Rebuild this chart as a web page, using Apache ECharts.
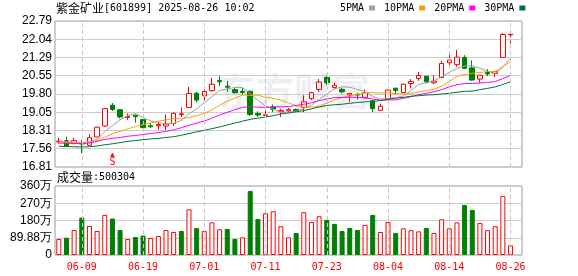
<!DOCTYPE html>
<html><head><meta charset="utf-8">
<script src="https://cdn.jsdelivr.net/npm/echarts@6/dist/echarts.min.js"></script>
<style>html,body{margin:0;padding:0;background:#fff}#c{width:578px;height:276px}</style>
</head><body><div id="c"></div>
<script>
const dates = ['06-04','06-05','06-06','06-09','06-10','06-11','06-12','06-13','06-16','06-17','06-18','06-19','06-20','06-23','06-24','06-25','06-26','06-27','06-30','07-01','07-02','07-03','07-04','07-07','07-08','07-09','07-10','07-11','07-14','07-15','07-16','07-17','07-18','07-21','07-22','07-23','07-24','07-25','07-28','07-29','07-30','07-31','08-01','08-04','08-05','08-06','08-07','08-08','08-11','08-12','08-13','08-14','08-15','08-18','08-19','08-20','08-21','08-22','08-25','08-26'];
const opens  = [17.84,17.89,17.81,17.79,17.70,18.04,18.49,19.34,19.16,18.83,18.93,18.75,18.50,18.50,18.49,18.59,18.96,19.25,19.83,19.72,19.94,20.35,20.12,19.98,19.91,19.91,19.00,18.92,19.27,19.07,19.11,19.17,19.25,19.62,19.99,20.48,20.07,19.99,19.76,19.79,19.66,19.52,19.13,19.62,20.04,19.86,20.23,20.44,20.53,20.26,20.48,21.08,21.00,21.30,20.87,20.41,20.68,20.64,21.30,22.22];
const closes = [17.87,17.67,17.89,17.75,18.01,18.44,19.20,19.17,18.86,18.88,18.87,18.42,18.46,18.55,18.57,19.01,18.99,19.82,19.55,19.90,20.20,20.30,20.08,19.85,19.86,18.96,18.94,18.95,19.18,19.13,19.16,19.10,19.48,19.85,20.29,20.26,20.16,19.89,19.82,19.76,19.85,19.20,19.30,19.96,19.94,20.20,20.31,20.56,20.30,20.33,21.05,21.19,21.31,20.85,20.37,20.57,20.62,20.71,22.24,22.25];
const lows   = [17.77,17.65,17.73,17.38,17.68,18.03,18.46,19.10,18.80,18.74,18.63,18.41,18.41,18.34,18.33,18.49,18.86,19.24,19.45,19.45,19.89,20.13,19.89,19.82,19.75,18.90,18.86,18.90,19.06,18.86,19.04,19.06,19.06,19.55,19.89,20.16,19.99,19.82,19.48,19.57,19.62,19.06,19.12,19.59,19.79,19.84,20.03,20.34,20.23,20.20,20.44,20.98,20.91,20.82,20.34,20.26,20.53,20.50,21.28,21.87];
const highs  = [18.00,18.05,18.01,17.92,18.15,18.46,19.24,19.43,19.17,19.00,18.96,18.77,18.63,18.64,18.96,19.04,19.25,20.09,19.89,20.05,20.46,20.53,20.33,20.05,20.05,19.93,19.09,19.27,19.37,19.20,19.23,19.20,19.75,19.89,20.41,20.53,20.27,20.05,19.83,19.83,19.99,19.55,19.41,19.98,20.05,20.23,20.41,20.71,20.54,20.56,21.16,21.56,21.61,21.39,21.18,20.58,20.82,20.73,22.30,22.29];
const ma5  = [17.85,17.82,17.81,17.80,17.84,17.95,18.26,18.51,18.74,18.91,19.00,18.84,18.70,18.64,18.57,18.60,18.72,18.99,19.19,19.45,19.69,19.95,20.01,20.07,20.06,19.81,19.54,19.31,19.18,19.03,19.07,19.10,19.21,19.34,19.58,19.80,20.01,20.09,20.08,19.98,19.90,19.70,19.59,19.61,19.65,19.72,19.94,20.19,20.26,20.34,20.51,20.69,20.84,20.95,20.95,20.86,20.74,20.62,20.90,21.28];
const ma10 = [17.86,17.84,17.82,17.79,17.82,17.90,18.03,18.17,18.27,18.37,18.47,18.55,18.61,18.69,18.74,18.80,18.78,18.84,18.91,19.01,19.15,19.34,19.50,19.63,19.76,19.75,19.75,19.66,19.62,19.55,19.44,19.32,19.26,19.26,19.30,19.43,19.56,19.65,19.71,19.78,19.85,19.86,19.84,19.85,19.81,19.81,19.82,19.89,19.94,20.00,20.12,20.31,20.52,20.60,20.65,20.68,20.72,20.73,20.92,21.12];
const ma20 = [17.79,17.78,17.77,17.77,17.79,17.86,17.94,17.98,18.02,18.07,18.10,18.14,18.18,18.22,18.27,18.33,18.42,18.52,18.61,18.69,18.81,18.94,19.05,19.16,19.25,19.28,19.26,19.25,19.27,19.28,19.29,19.33,19.38,19.44,19.53,19.59,19.65,19.66,19.67,19.66,19.64,19.59,19.55,19.56,19.56,19.62,19.69,19.77,19.83,19.89,19.98,20.09,20.18,20.23,20.23,20.25,20.27,20.31,20.43,20.56];
const ma30 = [17.66,17.65,17.64,17.63,17.64,17.67,17.72,17.76,17.81,17.86,17.89,17.93,17.96,17.98,18.02,18.05,18.11,18.18,18.25,18.31,18.38,18.45,18.53,18.61,18.69,18.76,18.81,18.86,18.91,18.98,19.02,19.07,19.12,19.19,19.27,19.33,19.36,19.38,19.42,19.45,19.48,19.50,19.53,19.58,19.63,19.66,19.71,19.73,19.76,19.77,19.80,19.83,19.87,19.91,19.92,19.98,20.03,20.09,20.19,20.30];
// volume in 万 (10k)
const volumes = [83.5,90,130,195,151,125,209,190,130,83.5,94,101,89,99,130,120,125,238,140,125,170,134,136,83.5,92,334,188,217,228,150,92,115,223,172,202,183,162,125,141,130,157,209,120,172,115,139,129,123,141,115,186,139,170,261,235,167,129,150,308,50];
// 1 = red (up), -1 = green (down), as coloured in the volume pane
const volDir = [1,-1,1,-1,1,1,1,-1,-1,1,-1,-1,1,1,1,1,-1,1,-1,1,1,1,-1,-1,1,-1,-1,1,1,1,1,-1,1,1,1,-1,-1,-1,-1,-1,1,-1,1,1,-1,1,1,1,-1,1,1,1,1,-1,-1,1,1,1,1,1];
const xLabelDates = ['06-09','06-19','07-01','07-11','07-23','08-04','08-14','08-26'];
const priceTicks = [16.81,17.5575,18.305,19.0525,19.8,20.5475,21.295,22.0425,22.79];
const priceTickLabels = ['16.81','17.56','18.31','19.05','19.80','20.55','21.29','22.04','22.79'];
const volTicks = [0,89.88,179.76,269.64,359.52];
const volTickLabels = ['0','89.88万','180万','270万','360万'];
const signalDate = '06-13';
const signalPrice = 17.31;

const RED = '#ff0000', GREEN = '#008000';
const cats = dates.concat(['']);
const kData = opens.map((o, i) => [o, closes[i], lows[i], highs[i]]);
const volData = volumes.map((v, i) => ({
  value: v,
  itemStyle: volDir[i] > 0 ? {color: '#ffffff', borderColor: RED, borderWidth: 1}
                           : {color: GREEN, borderColor: GREEN, borderWidth: 1}
}));
const vLines = xLabelDates.map(d => ({xAxis: d}));
const markLineStyle = {
  symbol: ['none', 'none'], silent: true, animation: false,
  label: {show: false},
  lineStyle: {type: [4, 3], color: '#c8c8c8', width: 1},
  data: vLines
};
const lookup = (ticks, labels) => v => {
  const k = ticks.findIndex(t => Math.abs(t - v) < 1e-6);
  return k >= 0 ? labels[k] : '';
};
const axisFont = {color: '#000', fontFamily: 'Liberation Sans', fontSize: 12, margin: 3};
const richTitle = {
  a: {fontFamily: 'Noto Sans CJK SC', fontSize: 12, color: '#000', fontWeight: 'normal'},
  b: {fontFamily: 'DejaVu Sans Mono', fontSize: 10, color: '#000', fontWeight: 'normal'}
};

const chart = echarts.init(document.getElementById('c'));
chart.setOption({
  animation: false,
  title: [
    {left: 56, top: 2, padding: 0,
     text: '{a|紫金矿业}{b|[601899] 2025-08-26 10:02}',
     textStyle: {fontWeight: 'normal', rich: richTitle}},
    {left: 57, top: 171, padding: 0,
     text: '{a|成交量}{b|:500304}',
     textStyle: {fontWeight: 'normal', rich: richTitle}}
  ],
  legend: {
    left: 340, top: 3, padding: 0, align: 'right', icon: 'rect',
    itemWidth: 6, itemHeight: 5, itemGap: 9,
    textStyle: {fontFamily: 'DejaVu Sans Mono', fontSize: 10, color: '#000'},
    data: ['5PMA', '10PMA', '20PMA', '30PMA'],
    selectedMode: false
  },
  graphic: [{
    type: 'text', left: 218, top: 72, z: -1, silent: true,
    style: {text: '东方财富', font: 'bold 38px "Noto Sans CJK SC"', fill: 'rgba(185,190,205,0.25)'}
  }],
  grid: [
    {left: 55, top: 21, width: 467, height: 146, show: true, borderColor: '#999', borderWidth: 1},
    {left: 55, top: 186, width: 467, height: 69, show: true, borderColor: '#999', borderWidth: 1}
  ],
  xAxis: [
    {type: 'category', gridIndex: 0, data: cats, boundaryGap: true,
     axisLine: {show: false}, axisTick: {show: false}, axisLabel: {show: false}, splitLine: {show: false}},
    {type: 'category', gridIndex: 1, data: cats, boundaryGap: true,
     axisLine: {show: false}, axisTick: {show: false}, splitLine: {show: false},
     axisLabel: {interval: (i, v) => xLabelDates.includes(v), color: RED,
                 fontFamily: 'DejaVu Sans Mono', fontSize: 10, margin: 7}}
  ],
  yAxis: [
    {type: 'value', gridIndex: 0, min: 16.81, max: 22.79, scale: true,
     axisLine: {show: false},
     axisTick: {show: false, customValues: priceTicks},
     axisLabel: Object.assign({customValues: priceTicks, formatter: lookup(priceTicks, priceTickLabels)}, axisFont),
     splitLine: {show: true, lineStyle: {color: '#cccccc', width: 1}}},
    {type: 'value', gridIndex: 1, min: 0, max: 359.52, interval: 89.88,
     axisLine: {show: false}, axisTick: {show: false},
     axisLabel: Object.assign({formatter: lookup(volTicks, volTickLabels)}, axisFont),
     splitLine: {show: true, lineStyle: {color: '#cccccc', width: 1}}}
  ],
  series: [
    {type: 'scatter', xAxisIndex: 0, yAxisIndex: 0, data: [], z: 1, markLine: markLineStyle},
    {type: 'scatter', xAxisIndex: 1, yAxisIndex: 1, data: [], z: 1, markLine: markLineStyle},
    {name: 'K', type: 'candlestick', xAxisIndex: 0, yAxisIndex: 0, data: kData, barWidth: 5, z: 3,
     itemStyle: {color: '#ffffff', color0: GREEN, borderColor: RED, borderColor0: GREEN,
                 borderColorDoji: RED, borderWidth: 1},
     markPoint: {
       silent: true, animation: false,
       data: [{coord: [signalDate, signalPrice], symbol: 'triangle', symbolSize: [5, 4],
               itemStyle: {color: RED},
               label: {show: true, formatter: 'S', position: 'bottom', distance: 1, color: RED,
                       fontFamily: 'DejaVu Sans Mono', fontSize: 10}}]
     }},
    {name: '5PMA', type: 'line', xAxisIndex: 0, yAxisIndex: 0, data: ma5, showSymbol: false, z: 4,
     lineStyle: {width: 1, color: '#a0a0a0'}, itemStyle: {color: '#a0a0a0'}},
    {name: '10PMA', type: 'line', xAxisIndex: 0, yAxisIndex: 0, data: ma10, showSymbol: false, z: 4,
     lineStyle: {width: 1, color: '#f4a400'}, itemStyle: {color: '#f4a400'}},
    {name: '20PMA', type: 'line', xAxisIndex: 0, yAxisIndex: 0, data: ma20, showSymbol: false, z: 4,
     lineStyle: {width: 1, color: '#ff00ff'}, itemStyle: {color: '#ff00ff'}},
    {name: '30PMA', type: 'line', xAxisIndex: 0, yAxisIndex: 0, data: ma30, showSymbol: false, z: 4,
     lineStyle: {width: 1, color: '#00703c'}, itemStyle: {color: '#00703c'}},
    {name: 'VOL', type: 'bar', xAxisIndex: 1, yAxisIndex: 1, data: volData, barWidth: 5, z: 3}
  ]
});
</script>
</body></html>
